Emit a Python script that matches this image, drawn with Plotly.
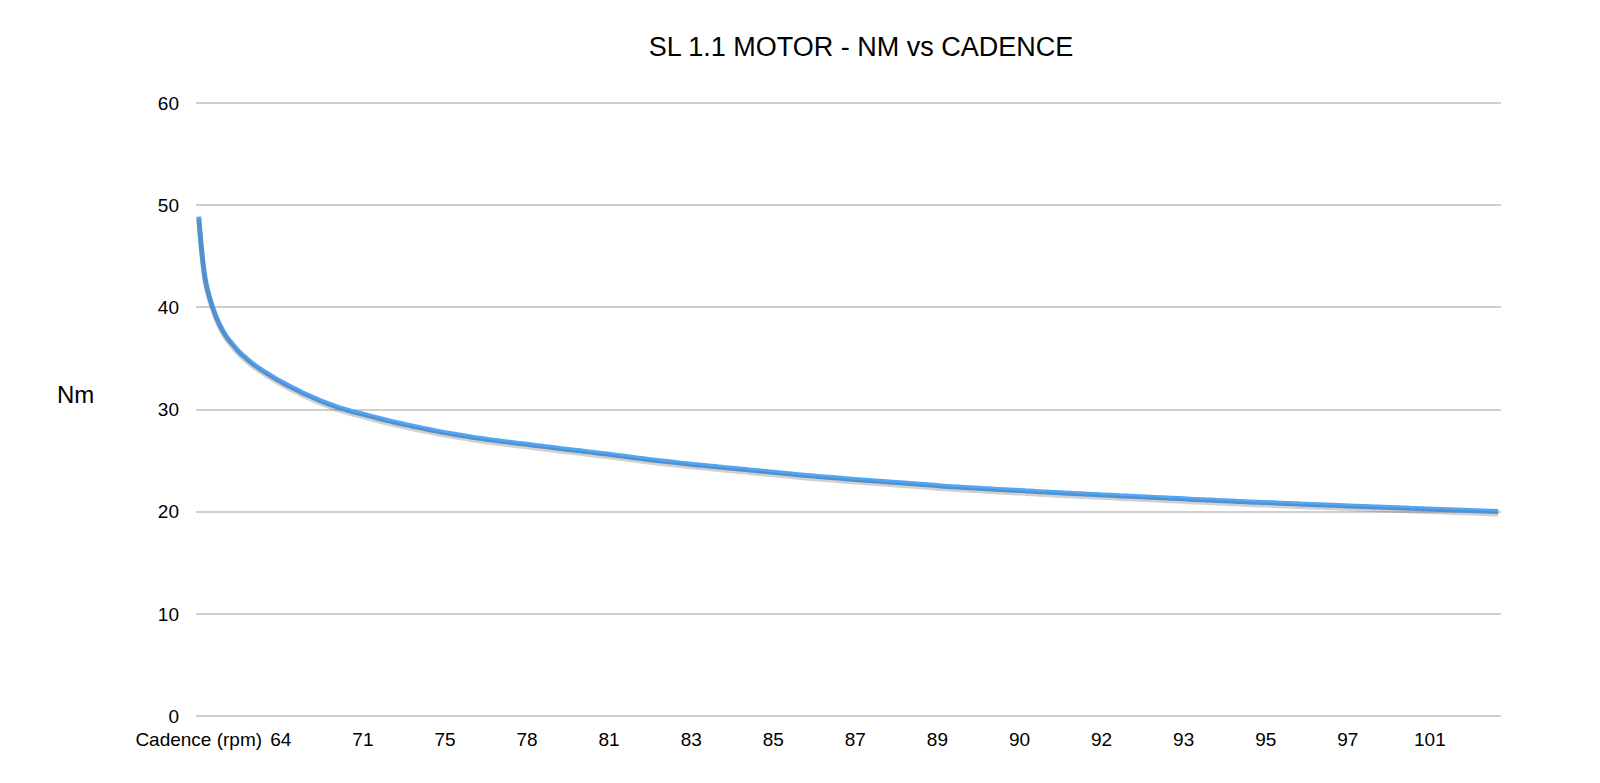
import plotly.graph_objects as go

# ---- data ----
tick_labels = ["Cadence (rpm)", "64", "71", "75", "78", "81", "83", "85",
               "87", "89", "90", "92", "93", "95", "97", "101"]
rows_per_label = 12

nm_values = [
    48.9, 42.6, 40.1, 38.4, 37.2, 36.35, 35.6, 35.0, 34.45, 33.98, 33.55, 33.14,
    32.75, 32.38, 32.04, 31.71, 31.4, 31.1, 30.82, 30.56, 30.32, 30.1, 29.9, 29.72,
    29.56, 29.38, 29.2, 29.03, 28.87, 28.71, 28.56, 28.42, 28.28, 28.14, 28.0, 27.87,
    27.75, 27.63, 27.52, 27.41, 27.3, 27.2, 27.1, 27.01, 26.93, 26.84, 26.76, 26.68,
    26.6, 26.51, 26.43, 26.35, 26.27, 26.18, 26.1, 26.02, 25.95, 25.86, 25.78, 25.7,
    25.62, 25.53, 25.45, 25.36, 25.27, 25.18, 25.1, 25.02, 24.95, 24.87, 24.8, 24.72,
    24.65, 24.58, 24.52, 24.45, 24.39, 24.32, 24.26, 24.19, 24.13, 24.06, 24.0, 23.93,
    23.87, 23.8, 23.74, 23.67, 23.6, 23.54, 23.49, 23.43, 23.38, 23.32, 23.27, 23.21,
    23.16, 23.11, 23.06, 23.01, 22.96, 22.91, 22.86, 22.81, 22.76, 22.71, 22.66, 22.61,
    22.56, 22.5, 22.45, 22.41, 22.38, 22.34, 22.3, 22.26, 22.22, 22.18, 22.15, 22.11,
    22.08, 22.04, 22.0, 21.96, 21.93, 21.89, 21.86, 21.82, 21.79, 21.75, 21.72, 21.68,
    21.65, 21.62, 21.59, 21.55, 21.52, 21.49, 21.46, 21.43, 21.4, 21.36, 21.33, 21.3,
    21.27, 21.23, 21.2, 21.17, 21.14, 21.1, 21.07, 21.04, 21.01, 20.98, 20.95, 20.92,
    20.9, 20.87, 20.84, 20.81, 20.79, 20.76, 20.73, 20.7, 20.68, 20.65, 20.63, 20.6,
    20.57, 20.54, 20.52, 20.49, 20.47, 20.44, 20.42, 20.39, 20.37, 20.34, 20.32, 20.29,
    20.27, 20.24, 20.22, 20.19, 20.17, 20.14, 20.12, 20.09, 20.07, 20.04, 20.02,
]
y_ticks = [0, 10, 20, 30, 40, 50, 60]

rows = list(range(len(nm_values)))
tick_rows = [i * rows_per_label for i in range(len(tick_labels))]

FONT = "Liberation Sans, Arial, Helvetica, sans-serif"
GRID = "#cfcfcf"

fig = go.Figure()

# soft drop shadow under the line (drawn on an overlaid, slightly shifted axis)
fig.add_trace(go.Scatter(
    x=rows, y=nm_values, mode="lines", yaxis="y2",
    line=dict(color="rgba(90,90,90,0.28)", width=5, shape="spline", smoothing=1.0),
    hoverinfo="skip", showlegend=False,
))
fig.add_trace(go.Scatter(
    x=rows, y=nm_values, mode="lines",
    line=dict(color="#51a6f8", width=5, shape="spline", smoothing=1.0),
    showlegend=False,
))

pad = 0.4
xr = [rows[0] - pad, rows[-1] + pad]

fig.update_layout(
    width=1600, height=783,
    paper_bgcolor="white", plot_bgcolor="white",
    margin=dict(l=196, r=99, t=93, b=67, autoexpand=False),
    font=dict(family=FONT, size=19, color="black"),
    title=dict(text="SL 1.1 MOTOR - NM vs CADENCE", x=861 / 1600, xref="container",
               y=1 - 46.5 / 783, yref="container", yanchor="middle", xanchor="center",
               font=dict(family=FONT, size=27, color="black")),
    xaxis=dict(range=xr, tickmode="array", tickvals=tick_rows, ticktext=tick_labels,
               showgrid=False, zeroline=False, showline=False, ticks="",
               tickfont=dict(size=19, color="black"), ticklabelstandoff=10),
    yaxis=dict(range=[0, 61], tickmode="array", tickvals=y_ticks,
               showgrid=True, gridcolor=GRID, gridwidth=1.5,
               zeroline=True, zerolinecolor=GRID, zerolinewidth=1.5,
               showline=False, ticks="", tickfont=dict(size=19, color="black"),
               ticklabelstandoff=16),
    yaxis2=dict(range=[0.25, 61.25], overlaying="y", visible=False),
    annotations=[dict(text="Nm", xref="paper", yref="paper",
                      x=(75 - 196) / (1600 - 196 - 99), y=(716 - 395) / 623,
                      xanchor="center", yanchor="middle", showarrow=False,
                      font=dict(family=FONT, size=24, color="black"))],
)

fig.write_html("out.html")
